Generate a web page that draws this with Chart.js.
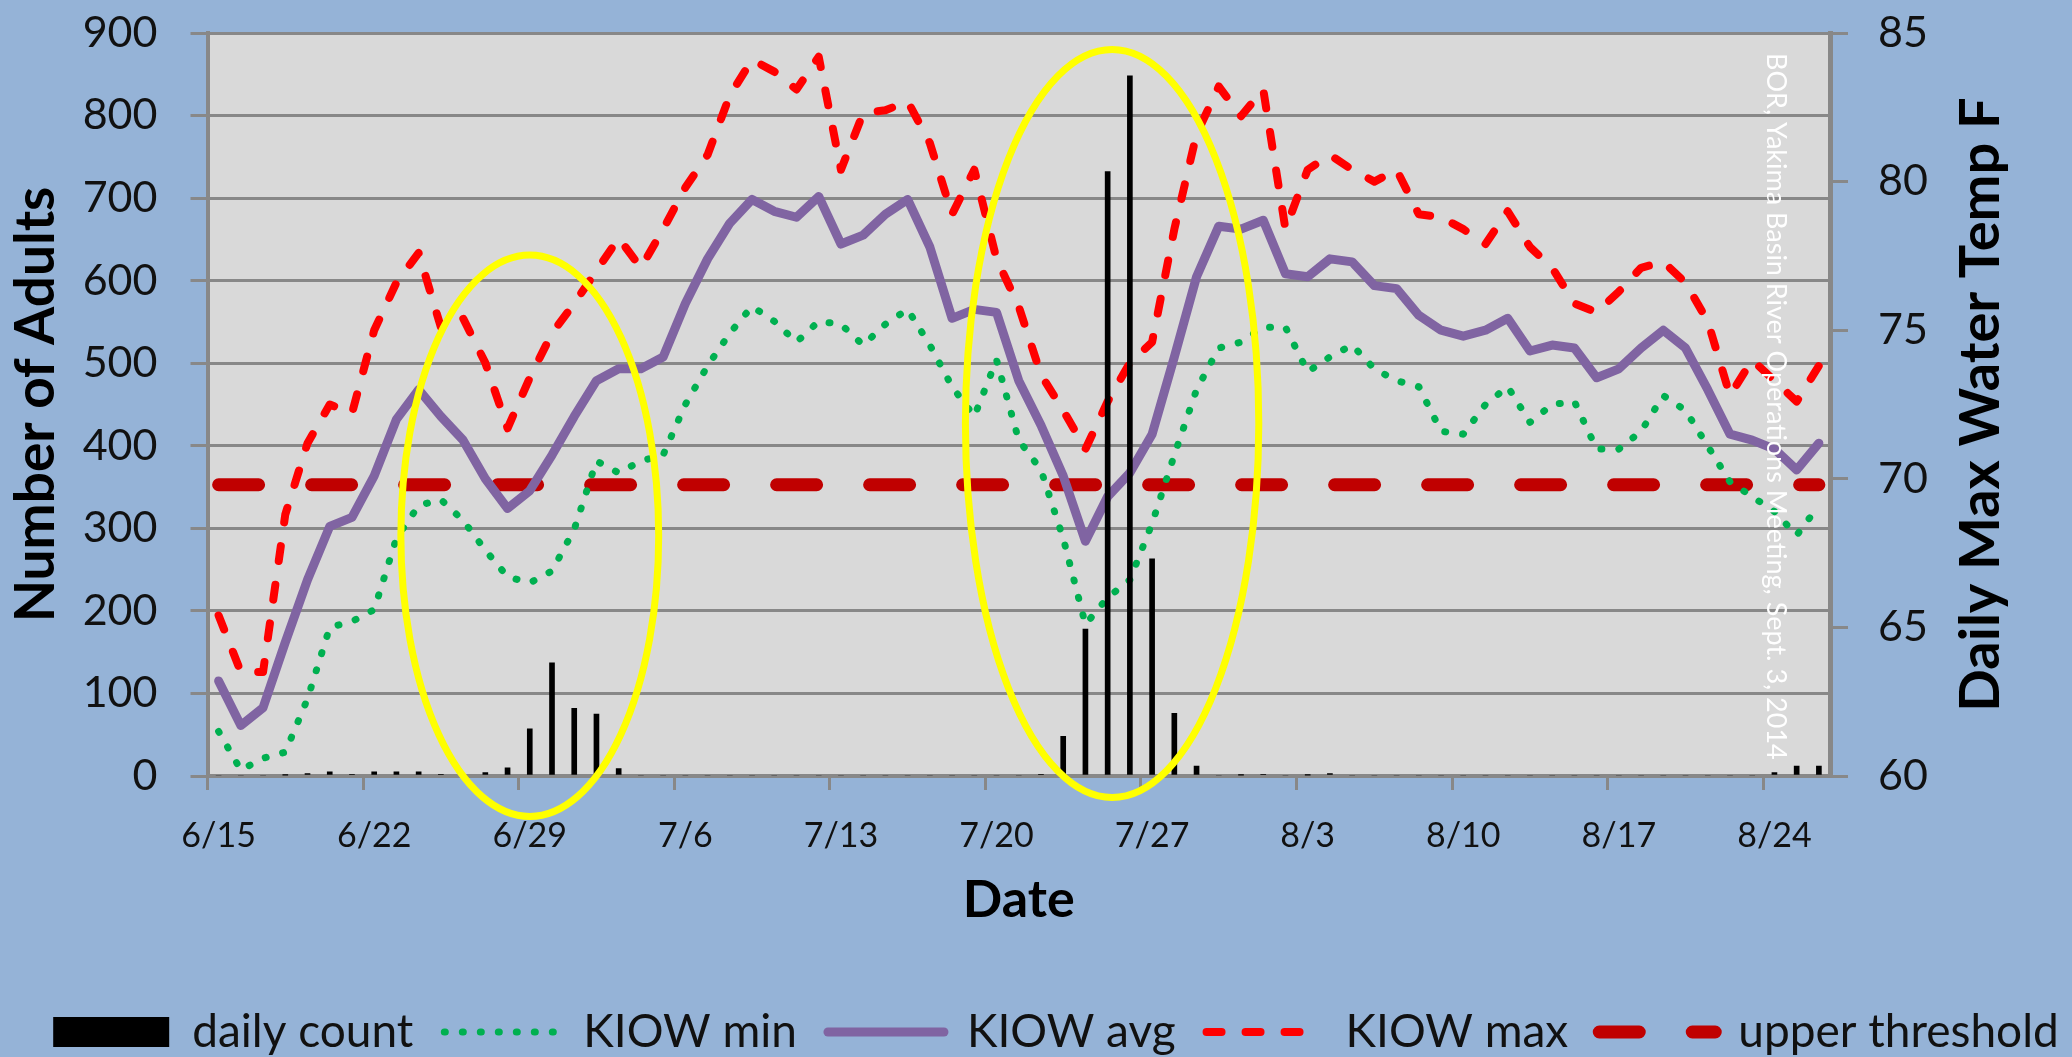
<!DOCTYPE html>
<html>
<head>
<meta charset="utf-8">
<script src="https://cdn.jsdelivr.net/npm/chart.js@4.4.1/dist/chart.umd.min.js"></script>
<style>
  html, body { margin: 0; padding: 0; background: #95B3D7; }
  #wrap { width: 2072px; height: 1057px; }
</style>
</head>
<body>
<div id="wrap"><canvas id="chart" width="2072" height="1057"></canvas></div>
<script>
// Dates on the x axis (one slot per day)
const dates = [
  '6/15', '6/16', '6/17', '6/18', '6/19', '6/20', '6/21', '6/22', '6/23', '6/24',
  '6/25', '6/26', '6/27', '6/28', '6/29', '6/30', '7/1', '7/2', '7/3', '7/4',
  '7/5', '7/6', '7/7', '7/8', '7/9', '7/10', '7/11', '7/12', '7/13', '7/14',
  '7/15', '7/16', '7/17', '7/18', '7/19', '7/20', '7/21', '7/22', '7/23', '7/24',
  '7/25', '7/26', '7/27', '7/28', '7/29', '7/30', '7/31', '8/1', '8/2', '8/3',
  '8/4', '8/5', '8/6', '8/7', '8/8', '8/9', '8/10', '8/11', '8/12', '8/13',
  '8/14', '8/15', '8/16', '8/17', '8/18', '8/19', '8/20', '8/21', '8/22', '8/23',
  '8/24', '8/25', '8/26',
];

// Number of adults counted per day (left axis)
const dailyCount = [
  0, 0, 0, 1, 3, 5, 2, 5, 5, 5,
  2, 1, 4, 10, 57, 137, 82, 75, 9, 0,
  0, 0, 0, 0, 0, 0, 0, 0, 0, 0,
  0, 0, 0, 0, 0, 0, 0, 2, 48, 178,
  732, 848, 263, 76, 12, 0, 1, 2, 0, 1,
  3, 0, 0, 0, 0, 0, 0, 0, 0, 0,
  0, 0, 0, 0, 0, 0, 0, 0, 0, 0,
  4, 12, 12,
];

// KIOW water temperatures, deg F (right axis)
const kiowMin = [
  61.5, 60.2, 60.6, 60.8, 62.6, 65.0, 65.2, 65.6, 68.0, 69.1,
  69.3, 68.6, 67.6, 66.7, 66.5, 66.9, 68.3, 70.6, 70.2, 70.6,
  70.8, 72.5, 73.8, 74.9, 75.8, 75.3, 74.6, 75.3, 75.2, 74.5,
  75.2, 75.7, 74.5, 73.1, 72.1, 74.0, 71.3, 70.3, 68.0, 65.1,
  66.0, 66.6, 68.5, 70.8, 73.0, 74.4, 74.6, 75.1, 75.1, 73.6,
  74.1, 74.5, 73.7, 73.3, 73.1, 71.6, 71.5, 72.5, 73.1, 71.9,
  72.5, 72.6, 71.0, 71.0, 71.6, 72.8, 72.3, 71.1, 69.9, 69.4,
  68.9, 68.1, 69.1,
];
const kiowAvg = [
  63.2, 61.7, 62.3, 64.5, 66.6, 68.4, 68.7, 70.1, 72.0, 73.0,
  72.1, 71.3, 70.0, 69.0, 69.6, 70.8, 72.1, 73.3, 73.7, 73.7,
  74.1, 75.9, 77.4, 78.6, 79.4, 79.0, 78.8, 79.5, 77.9, 78.2,
  78.9, 79.4, 77.8, 75.4, 75.7, 75.6, 73.3, 71.8, 70.1, 67.9,
  69.4, 70.2, 71.5, 74.1, 76.8, 78.5, 78.4, 78.7, 76.9, 76.8,
  77.4, 77.3, 76.5, 76.4, 75.5, 75.0, 74.8, 75.0, 75.4, 74.3,
  74.5, 74.4, 73.4, 73.7, 74.4, 75.0, 74.4, 73.0, 71.5, 71.3,
  71.0, 70.3, 71.2,
];
const kiowMax = [
  65.4, 63.5, 63.5, 68.8, 71.2, 72.5, 72.2, 75.0, 76.6, 77.6,
  75.1, 75.4, 73.9, 71.7, 73.4, 74.9, 75.9, 77.0, 78.1, 77.1,
  78.4, 79.8, 80.9, 82.9, 84.1, 83.7, 83.1, 84.2, 80.4, 82.3,
  82.4, 82.7, 81.3, 78.9, 80.4, 77.4, 75.8, 73.5, 72.3, 71.0,
  72.6, 73.9, 74.6, 78.4, 81.6, 83.2, 82.2, 83.1, 78.4, 80.4,
  80.9, 80.4, 80.0, 80.4, 78.9, 78.8, 78.4, 77.9, 79.0, 77.8,
  77.1, 75.9, 75.6, 76.3, 77.1, 77.3, 76.6, 75.3, 72.8, 74.0,
  73.3, 72.6, 73.8,
];

// Upper temperature threshold (21 C)
const upperThreshold = 69.8;

// Axis ranges
const countAxis = { min: 0, max: 900, step: 100 };
const tempAxis = { min: 60, max: 85, step: 5 };

// Yellow highlight ellipses: centre day index, half width in days, centre count, half height in counts
const highlights = [
  { day: 14.0, halfDays: 5.8, count: 291, halfCount: 340 },
  { day: 40.2, halfDays: 6.6, count: 427, halfCount: 453 },
];

const sourceNote = 'BOR, Yakima Basin River Operations Meeting, Sept. 3, 2014';

const GRID = '#888888';
const TEXT = '#111111';

// Grey plot area behind the grid
const plotBackground = {
  id: 'plotBackground',
  beforeDraw(chart) {
    const { ctx, chartArea: a } = chart;
    ctx.save();
    ctx.fillStyle = '#D9D9D9';
    ctx.fillRect(a.left, a.top, a.right - a.left, a.bottom - a.top);
    ctx.restore();
  },
};

// Right axis title (reads bottom to top), source note and highlight ellipses
const overlay = {
  id: 'overlay',
  afterDraw(chart) {
    const { ctx, chartArea: a, scales } = chart;
    const { x, y } = scales;

    ctx.save();
    ctx.font = 'bold 56px Lato';
    ctx.fillStyle = '#000';
    ctx.textAlign = 'center';
    ctx.textBaseline = 'alphabetic';
    ctx.translate(a.right + 169, (a.top + a.bottom) / 2);
    ctx.rotate(-Math.PI / 2);
    ctx.fillText('Daily Max Water Temp F', 0, 0);
    ctx.restore();

    ctx.save();
    ctx.font = '27px Lato';
    ctx.fillStyle = '#FFFFFF';
    ctx.textAlign = 'left';
    ctx.textBaseline = 'alphabetic';
    ctx.translate(a.right - 63, a.top + 20);
    ctx.rotate(Math.PI / 2);
    ctx.fillText(sourceNote, 0, 0);
    ctx.restore();

    ctx.save();
    ctx.strokeStyle = '#FFFF00';
    ctx.lineWidth = 7;
    highlights.forEach((h) => {
      const cx = x.getPixelForValue(h.day);
      const rx = x.getPixelForValue(h.day + h.halfDays) - cx;
      const cy = y.getPixelForValue(h.count);
      const ry = y.getPixelForValue(h.count - h.halfCount) - cy;
      ctx.beginPath();
      ctx.ellipse(cx, cy, rx, ry, 0, 0, Math.PI * 2);
      ctx.stroke();
    });
    ctx.restore();
  },
};

function lineSet(label, data, color, width, dash, cap) {
  return {
    type: 'line',
    label,
    data,
    yAxisID: 'y2',
    borderColor: color,
    backgroundColor: color,
    borderWidth: width,
    borderDash: dash,
    borderCapStyle: cap,
    borderJoinStyle: 'round',
    pointRadius: 0,
    tension: 0,
    fill: false,
  };
}

// Fixed axis sizes so the plot area lands where the original has it
function fixVertical(width) {
  return (s) => {
    s.width = width;
    s.paddingTop = 0;
    s.paddingBottom = 0;
  };
}

function render() {
  const ctx = document.getElementById('chart').getContext('2d');
  // eslint-disable-next-line no-undef
  new Chart(ctx, {
    data: {
      labels: dates,
      datasets: [
        {
          type: 'bar',
          label: 'daily count',
          data: dailyCount,
          yAxisID: 'y',
          backgroundColor: '#000000',
          borderWidth: 0,
          barThickness: 5,
        },
        lineSet('KIOW min', kiowMin, '#00B050', 7, [1, 17], 'round'),
        lineSet('KIOW avg', kiowAvg, '#8064A2', 9, [], 'round'),
        lineSet('KIOW max', kiowMax, '#FF0000', 8, [15, 24], 'round'),
        lineSet('upper threshold', dates.map(() => upperThreshold), '#C00000', 13, [40, 53], 'round'),
      ],
    },
    options: {
      responsive: false,
      animation: false,
      devicePixelRatio: 1,
      layout: { padding: { top: 33, bottom: -8, left: 20, right: -20 } },
      plugins: {
        tooltip: { enabled: false },
        legend: {
          position: 'bottom',
          labels: {
            usePointStyle: true,
            pointStyleWidth: 116,
            boxHeight: 30,
            padding: 31,
            color: TEXT,
            font: { size: 46 },
            generateLabels: (chart) => chart.data.datasets.map((ds, i) => ({
              text: ds.label,
              datasetIndex: i,
              hidden: false,
              fontColor: TEXT,
              fillStyle: ds.type === 'bar' ? '#000000' : 'rgba(0,0,0,0)',
              strokeStyle: ds.type === 'bar' ? '#000000' : ds.borderColor,
              lineWidth: ds.type === 'bar' ? 0 : ds.borderWidth,
              lineDash: ds.type === 'bar' ? [] : ds.borderDash,
              lineCap: ds.type === 'bar' ? 'butt' : ds.borderCapStyle,
              pointStyle: ds.type === 'bar' ? 'rect' : 'line',
            })),
          },
        },
      },
      scales: {
        x: {
          type: 'category',
          offset: true,
          grid: {
            offset: true,
            drawOnChartArea: false,
            drawTicks: true,
            tickLength: 14,
            lineWidth: 3,
            color: (c) => (c.index % 7 === 0 ? GRID : 'rgba(0,0,0,0)'),
          },
          border: { display: true, color: GRID, width: 4 },
          ticks: {
            autoSkip: false,
            maxRotation: 0,
            minRotation: 0,
            padding: 26,
            color: TEXT,
            font: { size: 34 },
            callback: (v, i) => (i % 7 === 0 ? dates[i] : ''),
          },
          title: {
            display: true,
            text: 'Date',
            color: '#000',
            font: { size: 52, weight: 'bold' },
            padding: { top: 0, bottom: 47 },
          },
          afterFit: (s) => { s.height = 202; },
        },
        y: {
          position: 'left',
          min: countAxis.min,
          max: countAxis.max,
          ticks: { stepSize: countAxis.step, padding: 33, color: TEXT, font: { size: 43 } },
          grid: { color: GRID, lineWidth: 3, tickLength: 17 },
          border: { display: true, color: GRID, width: 4 },
          title: {
            display: true,
            text: 'Number of Adults',
            color: '#000',
            font: { size: 55, weight: 'bold' },
            padding: { top: -17, bottom: 0 },
          },
          afterFit: fixVertical(187.5),
        },
        y2: {
          position: 'right',
          min: tempAxis.min,
          max: tempAxis.max,
          ticks: { stepSize: tempAxis.step, padding: 30, color: TEXT, font: { size: 43 } },
          grid: { drawOnChartArea: false, color: GRID, lineWidth: 3, tickLength: 18 },
          border: { display: true, color: GRID, width: 5 },
          afterFit: fixVertical(262),
        },
      },
    },
    plugins: [plotBackground, overlay],
  });
}

Chart.defaults.font.family = 'Lato, "Open Sans", sans-serif';

Promise.all([
  document.fonts.load('46px Lato'),
  document.fonts.load('bold 56px Lato'),
]).catch(() => {}).then(render);
</script>
</body>
</html>
